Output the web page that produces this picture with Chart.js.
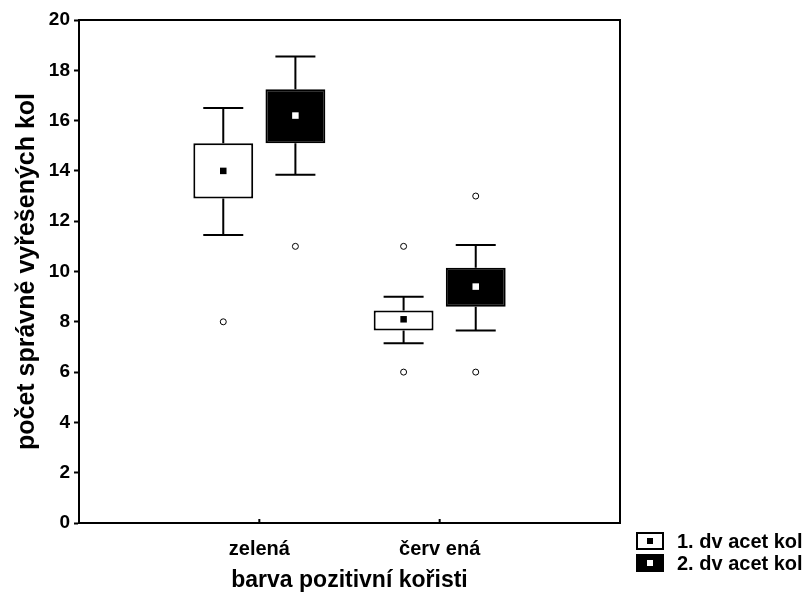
<!DOCTYPE html>
<html>
<head>
<meta charset="utf-8">
<script src="https://cdn.jsdelivr.net/npm/chart.js@4.4.1/dist/chart.umd.min.js"></script>
<style>
  html, body { margin: 0; background: #fff; }
  #wrap { width: 806px; height: 594px; }
</style>
</head>
<body>
<div id="wrap"><canvas id="c"></canvas></div>
<script>
// categories and their positions on the x axis
const categories = ['zelená', 'červ ená'];
const catPos = [1, 2];
const seriesNames = ['1. dv acet kol', '2. dv acet kol'];
const yTicks = [0, 2, 4, 6, 8, 10, 12, 14, 16, 18, 20];

// series 1 (1. dvacet kol), per category
const whiskerLow1 = [11.45, 7.15];
const boxLow1 = [12.9, 7.65];
const median1 = [14.0, 8.1];
const boxHigh1 = [15.1, 8.45];
const whiskerHigh1 = [16.5, 9.0];
const outliers1 = [[8], [11, 6]];

// series 2 (2. dvacet kol), per category
const whiskerLow2 = [13.85, 7.65];
const boxLow2 = [15.1, 8.6];
const median2 = [16.2, 9.4];
const boxHigh2 = [17.25, 10.15];
const whiskerHigh2 = [18.55, 11.05];
const outliers2 = [[11], [13, 6]];

const groupOffset = 0.2;   // half distance between the two boxes, in category units
const capHalf = 20;        // whisker cap half width, px
const FONT = "'Liberation Sans', Arial, sans-serif";

const series = [
  { lo: whiskerLow1, q1: boxLow1, med: median1, q3: boxHigh1, hi: whiskerHigh1, out: outliers1, dx: -groupOffset, fill: '#fff', mark: '#000' },
  { lo: whiskerLow2, q1: boxLow2, med: median2, q3: boxHigh2, hi: whiskerHigh2, out: outliers2, dx: groupOffset, fill: '#000', mark: '#fff' }
];

const datasets = [];
series.forEach((s, i) => {
  datasets.push({
    type: 'scatter',
    label: 'median ' + (i + 1),
    data: catPos.map((p, k) => ({ x: p + s.dx, y: s.med[k] })),
    pointStyle: 'rect',
    pointRadius: 4.6,
    pointBorderWidth: 0,
    pointBackgroundColor: s.mark,
    order: 0
  });
  const outs = [];
  catPos.forEach((p, k) => s.out[k].forEach(v => outs.push({ x: p + s.dx, y: v })));
  datasets.push({
    type: 'scatter',
    label: 'outliers ' + (i + 1),
    data: outs,
    pointStyle: 'circle',
    pointRadius: 3,
    pointBorderWidth: 1,
    pointBorderColor: '#000',
    pointBackgroundColor: '#fff',
    order: 0
  });
});
series.forEach((s, i) => {
  datasets.push({
    type: 'bar',
    label: seriesNames[i],
    data: catPos.map((p, k) => ({ x: p, y: [s.q1[k], s.q3[k]] })),
    backgroundColor: s.fill,
    borderColor: '#000',
    borderWidth: 2,
    borderSkipped: false,
    categoryPercentage: 0.8,
    barPercentage: 0.83,
    grouped: true,
    order: 1
  });
});

const boxPlot = {
  id: 'boxPlot',
  beforeDatasetsDraw(chart) {
    const { ctx, scales: { x, y } } = chart;
    ctx.save();
    ctx.strokeStyle = '#000';
    ctx.lineWidth = 2;
    series.forEach(s => {
      catPos.forEach((p, k) => {
        const px = x.getPixelForValue(p + s.dx);
        ctx.beginPath();
        ctx.moveTo(px, y.getPixelForValue(s.q3[k]));
        ctx.lineTo(px, y.getPixelForValue(s.hi[k]));
        ctx.moveTo(px - capHalf, y.getPixelForValue(s.hi[k]));
        ctx.lineTo(px + capHalf, y.getPixelForValue(s.hi[k]));
        ctx.moveTo(px, y.getPixelForValue(s.q1[k]));
        ctx.lineTo(px, y.getPixelForValue(s.lo[k]));
        ctx.moveTo(px - capHalf, y.getPixelForValue(s.lo[k]));
        ctx.lineTo(px + capHalf, y.getPixelForValue(s.lo[k]));
        ctx.stroke();
      });
    });
    ctx.restore();
  },
  afterDraw(chart) {
    const { ctx, chartArea: a, scales: { x } } = chart;
    ctx.save();
    ctx.strokeStyle = '#000';
    ctx.lineWidth = 2;
    ctx.strokeRect(a.left, a.top, a.right - a.left, a.bottom - a.top);
    // inward x ticks
    ctx.beginPath();
    catPos.forEach(p => {
      const px = x.getPixelForValue(p);
      ctx.moveTo(px, a.bottom);
      ctx.lineTo(px, a.bottom - 4);
    });
    ctx.stroke();
    // legend
    ctx.font = 'bold 20px ' + FONT;
    ctx.textBaseline = 'middle';
    ctx.textAlign = 'left';
    series.forEach((s, i) => {
      const cy = 541 + i * 22;
      ctx.fillStyle = s.fill;
      ctx.fillRect(637, cy - 8, 26, 16);
      ctx.strokeStyle = '#000';
      ctx.lineWidth = 2;
      ctx.strokeRect(637, cy - 8, 26, 16);
      ctx.fillStyle = s.mark;
      ctx.fillRect(647, cy - 3, 6, 6);
      ctx.fillStyle = '#000';
      ctx.fillText(seriesNames[i], 677, cy + 1);
    });
    ctx.restore();
  }
};

new Chart(document.getElementById('c'), {
  type: 'bar',
  data: { datasets },
  options: {
    responsive: true,
    maintainAspectRatio: false,
    animation: false,
    layout: { padding: { left: 0, top: 20, right: 186, bottom: 0 } },
    plugins: { legend: { display: false }, tooltip: { enabled: false } },
    scales: {
      x: {
        type: 'linear',
        min: 0,
        max: 3,
        offset: false,
        grid: { display: true, drawOnChartArea: false, drawTicks: false, offset: false },
        border: { display: true, color: '#000', width: 2 },
        ticks: {
          stepSize: 1,
          autoSkip: false,
          padding: 14,
          color: '#000',
          font: { family: FONT, size: 20, weight: 'bold' },
          callback: v => { const k = catPos.indexOf(v); return k >= 0 ? categories[k] : ''; }
        },
        title: {
          display: true,
          text: 'barva pozitivní kořisti',
          color: '#000',
          font: { family: FONT, size: 23, weight: 'bold' },
          padding: { top: 0, bottom: 0 }
        },
        afterFit: s => { s.height = 71; }
      },
      y: {
        min: 0,
        max: 20,
        afterBuildTicks: s => { s.ticks = yTicks.map(v => ({ value: v })); },
        grid: { display: true, drawOnChartArea: false, drawTicks: true, tickLength: 5, tickWidth: 2, tickColor: '#000' },
        border: { display: true, color: '#000', width: 2 },
        ticks: {
          padding: 4,
          color: '#000',
          font: { family: FONT, size: 19, weight: 'bold' }
        },
        title: {
          display: true,
          text: 'počet správně vyřešených kol',
          color: '#000',
          font: { family: FONT, size: 25, weight: 'bold' },
          padding: { top: 12, bottom: 0 }
        },
        afterFit: s => { s.width = 79; }
      }
    }
  },
  plugins: [boxPlot]
});
</script>
</body>
</html>
